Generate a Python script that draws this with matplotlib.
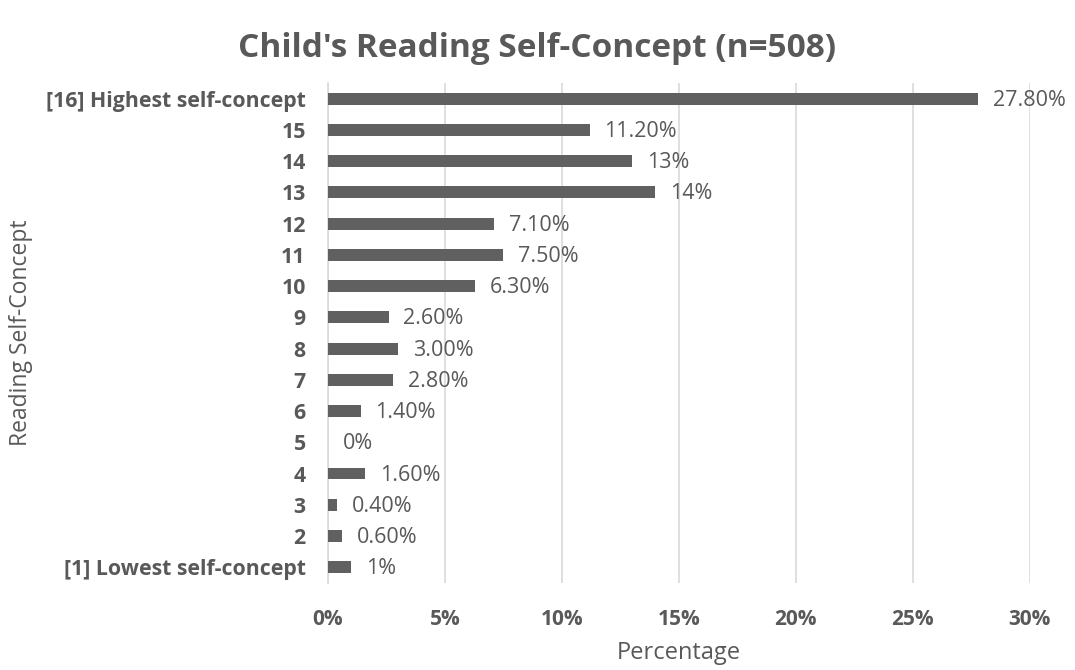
import matplotlib.pyplot as plt

plt.rcParams['font.family'] = ['Open Sans', 'DejaVu Sans']

categories = ['[1] Lowest self-concept', '2', '3', '4', '5', '6', '7', '8',
              '9', '10', '11', '12', '13', '14', '15', '[16] Highest self-concept']
values = [1.0, 0.6, 0.4, 1.6, 0.0, 1.4, 2.8, 3.0,
          2.6, 6.3, 7.5, 7.1, 14.0, 13.0, 11.2, 27.8]
labels = ['1%', '0.60%', '0.40%', '1.60%', '0%', '1.40%', '2.80%', '3.00%',
          '2.60%', '6.30%', '7.50%', '7.10%', '14%', '13%', '11.20%', '27.80%']
xticks = [0, 5, 10, 15, 20, 25, 30]

txt = '#595959'
fig = plt.figure(figsize=(10.75, 6.7), dpi=100)
ax = fig.add_axes([0.305, 0.130, 0.653, 0.746])

ypos = range(len(categories))
bars = ax.barh(ypos, values, height=0.38, color='#606060', zorder=3)
for b, lab in zip(bars, labels):
    ax.text(b.get_width() + 0.62, b.get_y() + b.get_height() / 2 - 0.05, lab,
            va='center', ha='left', fontsize=15.5, color=txt)

ax.set_xlim(0, 30)
ax.set_ylim(-0.5, len(categories) - 0.5)
ax.set_xticks(xticks)
ax.set_xticklabels([f'{t}%' for t in xticks], fontweight='bold')
ax.set_yticks(list(ypos))
ax.set_yticklabels(categories, fontweight='bold')
ax.tick_params(length=0, labelsize=15, colors=txt)
ax.tick_params(axis='y', labelsize=15.3, pad=16)
ax.tick_params(axis='x', pad=19)
ax.grid(axis='x', color='#d9d9d9', linewidth=1.2, zorder=0)
for s in ['top', 'right', 'bottom']:
    ax.spines[s].set_visible(False)
ax.spines['left'].set_color('#d9d9d9')
ax.spines['left'].set_linewidth(1.2)

ax.set_xlabel('Percentage', fontsize=17, color=txt, labelpad=8)
ax.set_ylabel('Reading Self-Concept', fontsize=16.5, color=txt)
ax.yaxis.set_label_coords(-0.42, 0.5)
fig.suptitle("Child's Reading Self-Concept (n=508)", fontsize=24,
             fontweight='bold', color=txt, y=0.952, x=0.5)

fig.savefig('out.png', dpi=100)
